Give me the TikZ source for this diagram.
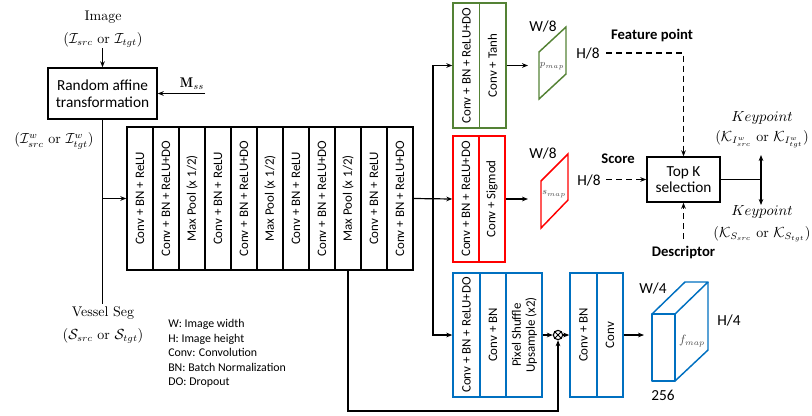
\documentclass[tikz,border=0pt]{standalone}
\usepackage{fontspec}
\setsansfont{Carlito}
\usetikzlibrary{arrows.meta}
\definecolor{grn}{RGB}{84,130,53}
\definecolor{rd}{RGB}{255,0,0}
\definecolor{bl}{RGB}{0,112,192}
\begin{document}
\begin{tikzpicture}[x=0.75pt,y=-0.75pt,
  ln/.style={line width=0.9pt},
  arr/.style={ln,-{Stealth[length=4.5pt,width=3.5pt]}},
  dsh/.style={dash pattern=on 4.5pt off 3pt},
  blk/.style={draw,line width=1.1pt,inner sep=0pt},
  coltext/.style={rotate=90,font=\sffamily\fontsize{9.7}{10.5}\selectfont,inner sep=0pt,align=center},
  boxtext/.style={font=\sffamily\fontsize{11.5}{13.5}\selectfont,align=center},
  mlabel/.style={font=\fontsize{10.5}{12}\selectfont,inner sep=0pt},
  slabel/.style={font=\sffamily\fontsize{11.5}{13}\selectfont,inner sep=0pt},
  blabel/.style={font=\sffamily\bfseries\fontsize{11}{13}\selectfont,inner sep=0pt},
  maplabel/.style={font=\fontsize{7.5}{9}\selectfont,text=black!70,inner sep=0pt}]
\useasboundingbox (0,0) rectangle (812,415);

% ---- input and affine transformation
\node[mlabel] (img) at (103,17) {Image};
\node[mlabel] (imgs) at (103,40) {$(\mathcal{I}_{src}\ \mathrm{or}\ \mathcal{I}_{tgt})$};
\node[blk,minimum width=81.75pt,minimum height=38.25pt,boxtext] (aff) at (102.5,93.5) {Random affine\\[-1pt]transformation};
\coordinate (imgin) at (102.5,48);
\draw[arr] (imgin) -- (aff.north);
\node[mlabel] (mss) at (192,84) {$\mathbf{M}_{ss}$};
\coordinate (mssin) at (205,93.5);
\draw[arr] (mssin) -- (aff.east);
\node[mlabel] (iw) at (54,141) {$(\mathcal{I}^w_{src}\ \mathrm{or}\ \mathcal{I}^w_{tgt})$};
\coordinate (segend) at (102.5,304);
\draw[ln] (aff.south) -- (segend);
\node[mlabel] (vs) at (103,313) {Vessel Seg};
\node[mlabel] (vss) at (103,336) {$(\mathcal{S}_{src}\ \mathrm{or}\ \mathcal{S}_{tgt})$};

% ---- encoder
\node[blk,minimum width=214.5pt,minimum height=107.25pt] (enc) at (270,198.5) {};
\coordinate (encin) at (102.5,198.5);
\draw[arr] (encin) -- (enc.west);
\foreach \i/\t in {1/{Conv + BN + ReLU},2/{Conv + BN + ReLU+DO},3/{Max Pool (x 1/2)},4/{Conv + BN + ReLU},5/{Conv + BN + ReLU+DO},6/{Max Pool (x 1/2)},7/{Conv + BN + ReLU},8/{Conv + BN + ReLU+DO},9/{Max Pool (x 1/2)},10/{Conv + BN + ReLU},11/{Conv + BN + ReLU+DO}}{
  \node[coltext] (e\i) at (127+26*\i-13,198.5) {\t};
}
\foreach \i in {1,...,10}{
  \draw[line width=1.1pt] (127+26*\i,127) -- (127+26*\i,270);
}

% ---- heads
\node[blk,draw=grn,minimum width=39.75pt,minimum height=93.75pt] (green) at (479.5,65.5) {};
\draw[grn,line width=1.1pt] (479.5,3) -- (479.5,128);
\node[coltext] (g1) at (466.5,65.5) {Conv + BN + ReLU+DO};
\node[coltext] (g2) at (492.5,65.5) {Conv + Tanh};

\node[blk,draw=rd,minimum width=39pt,minimum height=94.5pt] (red) at (479,199) {};
\draw[rd,line width=1.1pt] (479,136) -- (479,262);
\node[coltext] (r1) at (466,199) {Conv + BN + ReLU+DO};
\node[coltext] (r2) at (492,199) {Conv + Sigmod};

\node[blk,draw=bl,minimum width=66.75pt,minimum height=93pt] (blue1) at (497.5,335) {};
\draw[bl,line width=1.1pt] (480,273) -- (480,397) (506,273) -- (506,397);
\node[coltext] (b1) at (466.5,335) {Conv + BN + ReLU+DO};
\node[coltext] (b2) at (493,335) {Conv + BN};
\node[coltext] (b3) at (524.5,335) {Pixel Shuffle\\Upsample (x2)};

\node[blk,draw=bl,minimum width=39.75pt,minimum height=93pt] (blue2) at (596.5,335) {};
\draw[bl,line width=1.1pt] (597,273) -- (597,397);
\node[coltext] (c1) at (583.5,335) {Conv + BN};
\node[coltext] (c2) at (610,335) {Conv};

% ---- trunk connections
\coordinate (trunk) at (433,198.5);
\draw[arr] (enc.east) -- (red.west);
\draw[arr] (trunk) |- (green.west);
\draw[arr] (trunk) |- (blue1.west);

% ---- merge
\node[draw,circle,minimum size=7pt,inner sep=0pt,line width=0.8pt] (circ) at (558,335) {};
\draw[line width=0.6pt] (circ.north west) -- (circ.south east) (circ.north east) -- (circ.south west);
\draw[arr] (blue1.east) -- (circ.west);
\draw[arr] (circ.east) -- (blue2.west);
\coordinate (skip) at (348,270);
\coordinate (skipb) at (348,411);
\draw[arr] (skip) -- (skipb) -| (circ.south);

% ---- maps
\draw[grn,line width=1.1pt] (539,52) -- (566,27) -- (566,74) -- (539,99) -- cycle;
\node[maplabel] (pmap) at (552,66) {$p_{map}$};
\coordinate (pin) at (528,65.5);
\draw[arr] (green.east) -- (pin);
\node[slabel] (w8a) at (543,26) {W/8};
\node[slabel] (h8a) at (588,53) {H/8};

\draw[rd,line width=1.1pt] (541,181) -- (568,154) -- (568,200) -- (541,228) -- cycle;
\node[maplabel] (smap) at (554,194) {$s_{map}$};
\coordinate (sin) at (528,199);
\draw[arr] (red.east) -- (sin);
\node[slabel] (w8b) at (543,153) {W/8};
\node[slabel] (h8b) at (589,180) {H/8};

% cube
\draw[bl,line width=1.1pt,line join=round] (652,314) rectangle (675,381);
\draw[bl,line width=1.1pt,line join=round] (652,314) -- (685,282) -- (708,282) -- (675,314);
\draw[bl,line width=1.1pt,line join=round] (708,282) -- (708,350) -- (675,381);
\node[maplabel,font=\fontsize{9}{10}\selectfont] (fmap) at (692,341) {$f_{map}$};
\coordinate (fin) at (644,335);
\draw[arr] (blue2.east) -- (fin);
\node[slabel] (w4) at (653,288) {W/4};
\node[slabel] (h4) at (729,320) {H/4};
\node[slabel] (n256) at (663,395) {256};

% ---- top K selection
\node[blk,minimum width=54.75pt,minimum height=33.75pt,boxtext] (topk) at (683.5,179.5) {Top K\\[-1pt]selection};
\node[blabel] (fp) at (652,36) {Feature point};
\coordinate (fpst) at (606,53);
\draw[arr,dsh] (fpst) -| (topk.north);
\node[blabel] (sc) at (618,159) {Score};
\coordinate (scst) at (606,179.5);
\draw[arr,dsh] (scst) -- (topk.west);
\node[blabel] (desc) at (683.5,252) {Descriptor};
\coordinate (dst) at (683.5,239);
\draw[arr,dsh] (dst) -- (topk.south);
\coordinate (split) at (761,179.5);
\coordinate (kup) at (761,155);
\coordinate (kdn) at (761,205);
\draw[ln] (topk.east) -- (split);
\draw[arr] (split) -- (kup);
\draw[arr] (split) -- (kdn);
\node[mlabel] (k1) at (762,118) {$Keypoint$};
\node[mlabel] (k1s) at (762,139) {$(\mathcal{K}_{I^w_{src}}\ \mathrm{or}\ \mathcal{K}_{I^w_{tgt}})$};
\node[mlabel] (k2) at (762,212) {$Keypoint$};
\node[mlabel] (k2s) at (762,234) {$(\mathcal{K}_{S_{src}}\ \mathrm{or}\ \mathcal{K}_{S_{tgt}})$};

% ---- legend
\node[anchor=north west,align=left,inner sep=0pt,font=\sffamily\fontsize{8.9}{10.9}\selectfont] (legend) at (168,319) {W: Image width\\H: Image height\\Conv: Convolution\\BN: Batch Normalization\\DO: Dropout};
\end{tikzpicture}
\end{document}
